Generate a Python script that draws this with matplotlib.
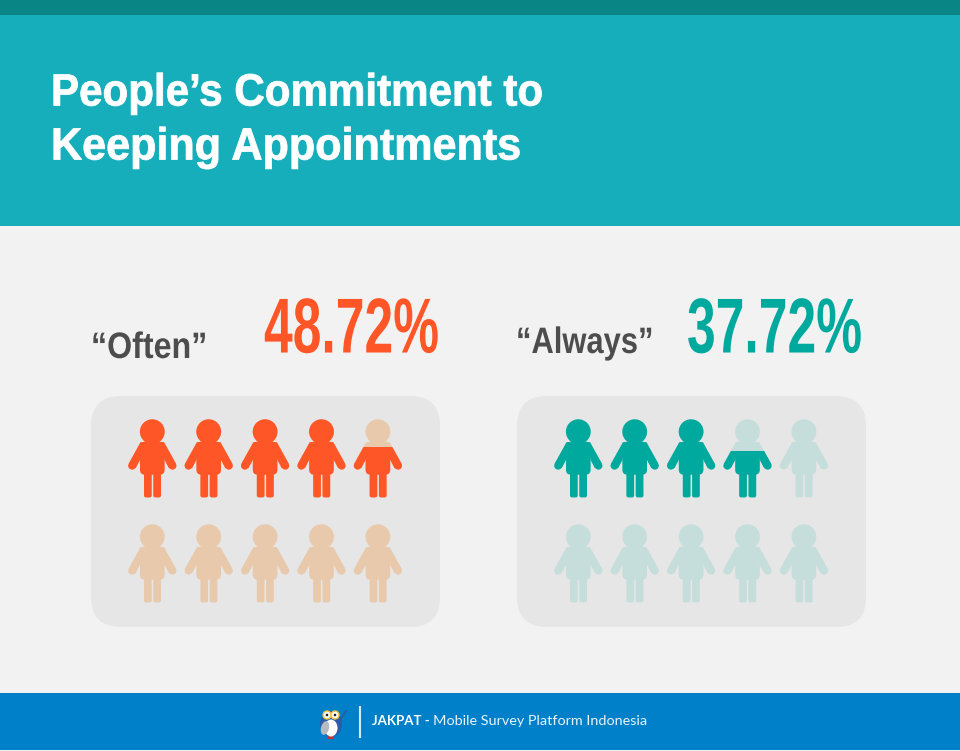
import matplotlib
matplotlib.use("Agg")
import matplotlib.pyplot as plt
from matplotlib.patches import Rectangle, FancyBboxPatch, Circle, Ellipse, Polygon
from matplotlib.patheffects import AbstractPathEffect
from matplotlib.transforms import Affine2D

# ---- data ----
title_lines = ["People’s Commitment to", "Keeping Appointments"]
categories = ["“Often”", "“Always”"]
percent_labels = ["48.72%", "37.72%"]
# filled share of each pictogram, as drawn, two rows of five
often_fill = [1, 1, 1, 1, 0.65, 0, 0, 0, 0, 0]
always_fill = [1, 1, 1, 0.59, 0, 0, 0, 0, 0, 0]
footer_bold = "JAKPAT - "
footer_text = "Mobile Survey Platform Indonesia"

# ---- style ----
BG = "#f2f2f2"; PANEL = "#e6e6e6"; HEADER = "#16aeba"; STRIP = "#0a8585"; FOOTER = "#0080c9"
ORANGE = "#ff5627"; ORANGE_L = "#e9c9ac"; TEAL = "#00a99d"; TEAL_L = "#c6dedb"; DARK = "#4d4d4d"

fig = plt.figure(figsize=(9.6, 7.51), dpi=100, facecolor=BG)
ax = fig.add_axes([0, 0, 1, 1])
ax.set_xlim(0, 960); ax.set_ylim(751, 0); ax.axis("off")


class Squeeze(AbstractPathEffect):
    """Scale real text around its anchor (x0, y0 in data units)."""
    def __init__(self, x0, y0, sx, sy=1.0, stroke=0.0):
        super().__init__()
        self.x0, self.y0 = ax.transData.transform((x0, y0))
        self.sx, self.sy = sx, sy
        self.stroke = stroke

    def draw_path(self, renderer, gc, tpath, affine, rgbFace=None):
        t = affine + (Affine2D().translate(-self.x0, -self.y0)
                      .scale(self.sx, self.sy).translate(self.x0, self.y0))
        if self.stroke:
            gc0 = renderer.new_gc()
            gc0.copy_properties(gc)
            gc0.set_foreground(rgbFace)
            gc0.set_linewidth(self.stroke)
            renderer.draw_path(gc0, tpath, t, rgbFace)
            gc0.restore()
        else:
            renderer.draw_path(gc, tpath, t, rgbFace)


def squeezed(x, y, s, color, size, sx, sy=1.0, stroke=0.0):
    ax.text(x, y, s, color=color, fontsize=size, fontweight="bold", family="Liberation Sans",
            ha="left", va="center", path_effects=[Squeeze(x, y, sx, sy, stroke)], zorder=5)


ax.add_patch(Rectangle((0, 0), 960, 226, fc=HEADER, ec="none"))
ax.add_patch(Rectangle((0, 0), 960, 14.5, fc=STRIP, ec="none"))
ax.add_patch(Rectangle((0, 693), 960, 57, fc=FOOTER, ec="none"))

squeezed(51, 94, title_lines[0], "white", 32.5, 0.933, stroke=0.6)
squeezed(51, 148, title_lines[1], "white", 32.5, 0.955, stroke=0.6)


def person(cx, top, color, fill=None):
    """Draw a pictogram with its top at `top`; fill=share clipped from the bottom."""
    z = 4 if fill is not None else 3
    arts = [Circle((cx, top + 12.7), 12.4),
            FancyBboxPatch((cx - 9.3, top + 25.7), 18.6, 27, boxstyle="round,pad=3,rounding_size=5")]
    for x0 in (cx - 7.3, cx + 2.0):
        arts.append(FancyBboxPatch((x0, top + 50), 5.7, 27.4, boxstyle="round,pad=1,rounding_size=2"))
    for s in (-1, 1):
        arts.append(Polygon([(cx + s * 9, top + 23), (cx + s * 11.8, top + 23.2),
                             (cx + s * 23.6, top + 44.5),
                             (cx + s * 16.7, top + 49.3), (cx + s * 12.3, top + 41)]))
        arts.append(Circle((cx + s * 20.2, top + 46.7), 3.9))
    clip = None
    if fill is not None:
        clip = Rectangle((cx - 30, top + 79 * (1 - fill)), 60, 79 * fill, transform=ax.transData)
    for a in arts:
        a.set(fc=color, ec="none", zorder=z)
        ax.add_patch(a)
        if clip is not None:
            a.set_clip_path(clip)


panels = [(91, often_fill, ORANGE, ORANGE_L), (517, always_fill, TEAL, TEAL_L)]
for (px, fills, col, light) in panels:
    ax.add_patch(FancyBboxPatch((px + 30, 396 + 30), 349 - 60, 231 - 60,
                                boxstyle="round,pad=30,rounding_size=30", fc=PANEL, ec="none", zorder=1))
    for idx, f in enumerate(fills):
        cx = px + 61.3 + (idx % 5) * 56.4
        top = 419 + (idx // 5) * 105
        person(cx, top, light)
        if f > 0:
            person(cx, top, col, fill=f)

squeezed(91, 348.5, categories[0], DARK, 26.5, 0.875)
squeezed(516, 343.5, categories[1], DARK, 26.5, 0.84)
squeezed(264, 332.5, percent_labels[0], ORANGE, 42, 0.885, 1.335)
squeezed(687, 332.5, percent_labels[1], TEAL, 42, 0.885, 1.335)

# footer
ax.plot([360, 360], [707, 737], color="#d6e9f5", lw=1.5, zorder=3)
ax.text(372, 721, footer_bold, color="white", fontsize=9.5, fontweight="bold", family="Lato", ha="left", va="center")
ax.text(433, 721, footer_text, color="#e8f3fa", fontsize=10.4, family="Lato", ha="left", va="center")

# owl logo
ax.add_patch(Ellipse((331, 724), 22, 26, fc="#2a5ca8", ec="none", zorder=3))
ax.add_patch(Ellipse((331, 728), 13, 17, fc="white", ec="none", zorder=4))
ax.add_patch(Ellipse((325, 728), 8, 14, angle=15, fc="#b5b9c0", ec="none", zorder=5))
for ex in (327, 335):
    ax.add_patch(Circle((ex, 715), 4, fc="white", ec="#f0c040", lw=1, zorder=5))
    ax.add_patch(Circle((ex, 715), 1.3, fc="#222222", ec="none", zorder=6))
ax.plot([339, 346], [722, 711], color="#2a5ca8", lw=1.5, zorder=3)
ax.add_patch(Rectangle((327, 736), 7, 2.5, fc="#c0304a", ec="none", zorder=3))

fig.savefig("out.png", dpi=100, facecolor=BG)
